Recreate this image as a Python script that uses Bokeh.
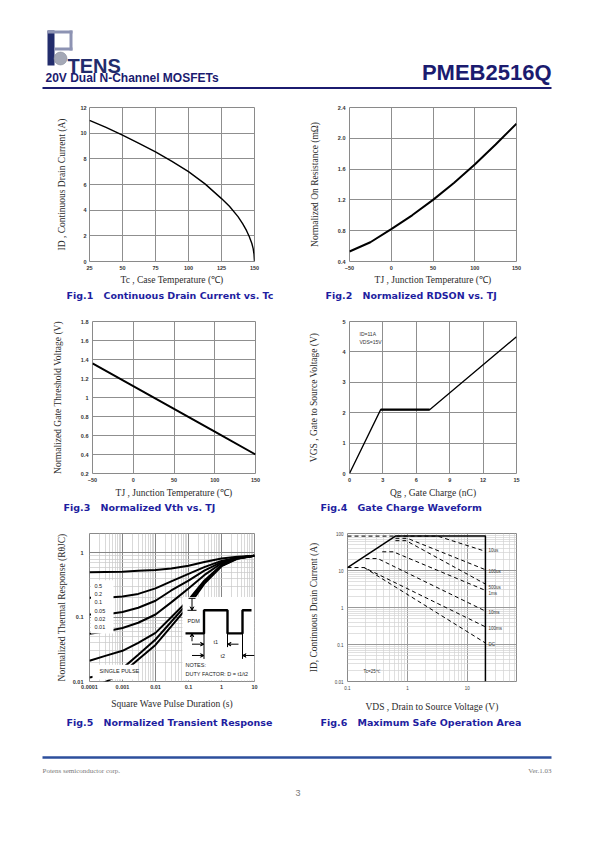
from bokeh.plotting import figure
from bokeh.layouts import column, row
from bokeh.models import Range1d, FixedTicker, CustomJSTickFormatter, Arrow, VeeHead
from bokeh.core.properties import value
from bokeh.embed import file_html
from bokeh.resources import INLINE

# ---------------- data ----------------
# Fig.1 Continuous drain current vs case temperature
fig1_tc = [25, 37.5, 50, 62.5, 75, 87.5, 100, 112.5, 125, 131, 137.5, 141, 144, 146, 148, 149, 149.6, 150]
fig1_id = [11.0, 10.45, 9.85, 9.2, 8.55, 7.8, 7.0, 6.05, 4.9, 4.3, 3.5, 2.95, 2.4, 1.95, 1.4, 1.0, 0.6, 0.0]
fig1_xticks = [25, 50, 75, 100, 125, 150]
fig1_yticks = [0, 2, 4, 6, 8, 10, 12]

# Fig.2 Normalized RDSON vs TJ
fig2_tj = [-50, -25, 0, 25, 50, 75, 100, 125, 150]
fig2_rds = [0.53, 0.65, 0.82, 1.0, 1.2, 1.42, 1.66, 1.92, 2.19]
fig2_xticks = [-50, 0, 50, 100, 150]
fig2_yticks = [0.4, 0.8, 1.2, 1.6, 2.0, 2.4]

# Fig.3 Normalized Vth vs TJ
fig3_tj = [-50, 0, 50, 100, 150]
fig3_vth = [1.36, 1.12, 0.88, 0.64, 0.40]
fig3_xticks = [-50, 0, 50, 100, 150]
fig3_yticks = [0.2, 0.4, 0.6, 0.8, 1.0, 1.2, 1.4, 1.6, 1.8]

# Fig.4 Gate charge waveform
fig4_qg = [0, 2.8, 7.2, 15]
fig4_vgs = [0, 2.1, 2.1, 4.5]
fig4_xticks = [0, 3, 6, 9, 12, 15]
fig4_yticks = [0, 1, 2, 3, 4, 5]
fig4_notes = ["ID=11A", "VDS=15V"]

# Fig.5 Normalized transient thermal response
fig5_t = [1e-4, 3e-4, 1e-3, 3e-3, 1e-2, 3e-2, 0.1, 0.3, 1, 3, 10]
fig5_d05 = [0.50, 0.505, 0.51, 0.525, 0.54, 0.57, 0.63, 0.72, 0.82, 0.87, 0.90]
fig5_d02 = [0.20, 0.20, 0.21, 0.23, 0.28, 0.36, 0.47, 0.60, 0.75, 0.84, 0.90]
fig5_d01 = [0.11, 0.11, 0.12, 0.14, 0.18, 0.26, 0.37, 0.53, 0.72, 0.84, 0.90]
fig5_d005 = [0.055, 0.06, 0.068, 0.082, 0.11, 0.17, 0.28, 0.45, 0.69, 0.83, 0.90]
fig5_d002 = [0.021, 0.025, 0.030, 0.040, 0.057, 0.10, 0.185, 0.37, 0.65, 0.82, 0.90]
fig5_d001 = [0.0115, 0.0128, 0.016, 0.026, 0.045, 0.085, 0.17, 0.35, 0.63, 0.82, 0.90]
fig5_single = [0.0078, 0.0098, 0.0135, 0.022, 0.037, 0.072, 0.15, 0.33, 0.62, 0.81, 0.90]
fig5_duty_labels = ["0.5", "0.2", "0.1", "0.05", "0.02", "0.01"]
fig5_xticks = [1e-4, 1e-3, 1e-2, 0.1, 1, 10]
fig5_yticks = [0.01, 0.1, 1]

# Fig.6 Maximum safe operating area
fig6_limit_v = [0.1, 0.63, 20, 20]
fig6_limit_i = [12, 85, 85, 0.01]
fig6_10us_v = [0.1, 3.2, 20]
fig6_10us_i = [85, 85, 33]
fig6_100us_v = [0.63, 1.0, 20]
fig6_100us_i = [74, 74, 10.5]
fig6_500us_v = [0.63, 0.95, 20]
fig6_500us_i = [64, 64, 4.3]
fig6_1ms_v = [0.38, 0.58, 20]
fig6_1ms_i = [32, 32, 2.9]
fig6_10ms_v = [0.2, 0.32, 20]
fig6_10ms_i = [21, 21, 0.8]
fig6_100ms_v = [0.1, 0.19, 20]
fig6_100ms_i = [12, 12, 0.3]
fig6_dc_v = [0.19, 20]
fig6_dc_i = [12, 0.11]
fig6_labels = ["10us", "100us", "500us", "1ms", "10ms", "100ms", "DC"]
fig6_label_i = [34.7, 9.6, 3.54, 2.35, 0.72, 0.276, 0.1]
fig6_xticks = [0.1, 1, 10]
fig6_yticks = [0.01, 0.1, 1, 10, 100]

captions_num = ["Fig.1", "Fig.2", "Fig.3", "Fig.4", "Fig.5", "Fig.6"]
captions_txt = ["Continuous Drain Current vs. Tc", "Normalized RDSON vs. TJ",
                "Normalized Vth vs. TJ", "Gate Charge Waveform",
                "Normalized Transient Response", "Maximum Safe Operation Area"]

# ---------------- styling helpers ----------------
NAVY = "#1b1b6f"
CAP_BLUE = "#1e1ea0"
SERIF = "Liberation Serif"
SANS = "Liberation Sans"


def deco(x0, x1, y0, y1):
    p = figure(width=int(x1 - x0), height=int(y1 - y0), x_range=Range1d(x0, x1),
               y_range=Range1d(y1, y0), x_axis_type=None, y_axis_type=None,
               toolbar_location=None, output_backend="svg", min_border=0)
    p.outline_line_color = None
    p.background_fill_color = "white"
    p.border_fill_color = "white"
    return p


def txt(p, x, y, s, size, font=SANS, style="normal", color="#222222",
        align="left", baseline="middle"):
    p.text(x=[x], y=[y], text=[s], text_font=value(font), text_font_size=size,
           text_font_style=style, text_color=color, text_align=align,
           text_baseline=baseline)


def chart(w, h, xr, yr, fl, ft, fw, fh, xtype="linear", ytype="linear"):
    p = figure(width=w, height=h, x_range=Range1d(*xr), y_range=Range1d(*yr),
               x_axis_type=xtype, y_axis_type=ytype, toolbar_location=None,
               output_backend="svg", min_border_left=fl, min_border_top=ft,
               min_border_right=w - fl - fw, min_border_bottom=h - ft - fh)
    p.background_fill_color = "white"
    p.border_fill_color = "white"
    p.outline_line_color = "#8a8a8a"
    for ax in p.axis:
        ax.axis_line_color = None
        ax.major_tick_line_color = None
        ax.minor_tick_line_color = None
        ax.major_tick_out = 0
        ax.major_tick_in = 0
        ax.minor_tick_out = 0
        ax.minor_tick_in = 0
        ax.axis_label_text_font = SERIF
        ax.axis_label_text_font_style = "normal"
        ax.axis_label_text_font_size = "9.5px"
        ax.axis_label_text_color = "#2b2b2b"
        ax.major_label_text_font = SANS
        ax.major_label_text_font_size = "5.5px"
        ax.major_label_text_font_style = "bold"
        ax.major_label_text_color = "#333333"
    p.grid.grid_line_color = "#8f8f8f"
    p.grid.grid_line_width = 1
    return p


def set_axes(p, xlabel, ylabel, xt, yt, y_std, y_als, x_std, x_als):
    p.xaxis.ticker = FixedTicker(ticks=xt)
    p.yaxis.ticker = FixedTicker(ticks=yt)
    p.xaxis.axis_label = xlabel
    p.yaxis.axis_label = ylabel
    p.yaxis.major_label_standoff = y_std
    p.yaxis.axis_label_standoff = y_als
    p.xaxis.major_label_standoff = x_std
    p.xaxis.axis_label_standoff = x_als


# ---------------- header ----------------
hdr = deco(0, 595, 0, 95)
hdr.quad(left=[47], right=[54], top=[30], bottom=[65], fill_color="#222c6c", line_color=None)
hdr.quad(left=[47, 69, 54], right=[72, 72, 72], top=[30, 30, 47], bottom=[33, 50, 50],
         fill_color="#8d93b3", line_color=None)
hdr.circle(x=[60], y=[58], radius=6.5, fill_color="#a4a8b6", line_color="#7c8090", line_width=0.5)
txt(hdr, 67, 65, "TENS", "20px", font=SANS, style="bold",
    color="#222c6c", baseline="alphabetic")
txt(hdr, 45, 77, "20V Dual N-Channel MOSFETs", "12px", style="bold", color=NAVY)
txt(hdr, 551, 72, "PMEB2516Q", "22px", style="bold", color=NAVY, align="right")
hdr.segment(x0=[42], y0=[87.5], x1=[551], y1=[87.5], line_width=2, line_color=NAVY)

# ---------------- Fig.1 ----------------
f1 = chart(298, 193, (25, 150), (0, 12), 89, 12, 165, 154)
set_axes(f1, "Tc , Case Temperature (\u2103)", "ID , Continuous Drain Current (A)",
         fig1_xticks, fig1_yticks, 3, 10, 4, 2)
f1.line(fig1_tc, fig1_id, line_color="black", line_width=1.4)

# ---------------- Fig.2 ----------------
f2 = chart(297, 193, (-50, 150), (0.4, 2.4), 51, 12, 167, 154)
set_axes(f2, "TJ , Junction Temperature (\u2103)", "Normalized On Resistance (m\u03a9)",
         fig2_xticks, fig2_yticks, 4, 15, 4, 2)
f2.yaxis.formatter = CustomJSTickFormatter(code="return tick.toFixed(1);")
f2.line(fig2_tj, fig2_rds, line_color="black", line_width=2)

# ---------------- Fig.3 ----------------
f3 = chart(298, 198, (-50, 150), (0.2, 1.8), 92, 19, 163, 152)
set_axes(f3, "TJ , Junction Temperature (\u2103)", "Normalized Gate Threshold Voltage (V)",
         fig3_xticks, fig3_yticks, 4, 15, 4, 3)
f3.yaxis.formatter = CustomJSTickFormatter(code="return (Math.round(tick*10)/10).toString();")
f3.line(fig3_tj, fig3_vth, line_color="black", line_width=2)

# ---------------- Fig.4 ----------------
f4 = chart(297, 198, (0, 15), (0, 5), 51, 17, 167, 154)
set_axes(f4, "Qg , Gate Charge (nC)", "VGS , Gate to Source Voltage (V)",
         fig4_xticks, fig4_yticks, 4, 20, 4, 3)
f4.line(fig4_qg, fig4_vgs, line_color="black", line_width=1.3)
f4.line(fig4_qg[1:3], fig4_vgs[1:3], line_color="black", line_width=2.2)
txt(f4, 0.9, 4.58, fig4_notes[0], "5px", color="#333333")
txt(f4, 0.9, 4.32, fig4_notes[1], "5px", color="#333333")

# ---------------- Fig.5 ----------------
f5 = chart(298, 201, (1e-4, 10), (0.01, 2), 89, 19, 165, 151, xtype="log", ytype="log")
minor5x = [m * d for d in [1e-4, 1e-3, 1e-2, 0.1, 1] for m in range(2, 10)]
minor5y = [m * d for d in [0.01, 0.1, 1] for m in range(2, 10)]
f5.xaxis.ticker = FixedTicker(ticks=fig5_xticks, minor_ticks=minor5x)
f5.yaxis.ticker = FixedTicker(ticks=fig5_yticks, minor_ticks=minor5y)
f5.xaxis.axis_label = "Square Wave Pulse Duration (s)"
f5.yaxis.axis_label = "Normalized Thermal Response (R\u03b8JC)"
f5.yaxis.major_label_standoff = 6
f5.yaxis.axis_label_standoff = 3
f5.xaxis.major_label_standoff = 3
f5.xaxis.axis_label_standoff = 7
f5.xaxis.formatter = CustomJSTickFormatter(code="return tick.toString();")
f5.yaxis.formatter = CustomJSTickFormatter(code="return tick.toString();")
f5.grid.grid_line_color = "#858585"
f5.grid.minor_grid_line_color = "#c8c8c8"
f5.grid.minor_grid_line_width = 0.7
for ys in [fig5_d05, fig5_d02, fig5_d01, fig5_d005, fig5_d002, fig5_d001, fig5_single]:
    f5.line(fig5_t, ys, line_color="black", line_width=2)


def X5(px):
    return 10 ** (-4 + (px - 89) / 33.0)


def Y5(py):
    return 10 ** (-(py - 552) / 65.5)


# white label boxes
f5.quad(left=[X5(90.5)], right=[X5(113)], top=[Y5(580)], bottom=[Y5(634)],
        fill_color="white", line_color=None)
f5.quad(left=[X5(92)], right=[X5(137)], top=[Y5(666)], bottom=[Y5(681)],
        fill_color="white", line_color=None)
for lab, py in zip(fig5_duty_labels, [586, 594.3, 602.5, 611, 619.3, 627.7]):
    txt(f5, X5(94), Y5(py), lab, "5.5px", color="#222222")
txt(f5, X5(99), Y5(672), "SINGLE PULSE", "5.5px", color="#222222")
# inset: duty factor diagram
f5.quad(left=[X5(182)], right=[X5(254)], top=[Y5(597)], bottom=[Y5(682)],
        fill_color="white", line_color=None)
wave_px = [185, 203.5, 203.5, 227, 227, 242, 242, 251]
wave_py = [634, 634, 610.5, 610.5, 634, 634, 610.5, 610.5]
f5.line([X5(v) for v in wave_px], [Y5(v) for v in wave_py], line_color="black", line_width=2.4)
f5.segment(x0=[X5(187), X5(188), X5(203.5), X5(227), X5(242)],
           y0=[Y5(610.5), Y5(598.3), Y5(634), Y5(634), Y5(634)],
           x1=[X5(196), X5(195), X5(203.5), X5(227), X5(242)],
           y1=[Y5(610.5), Y5(598.3), Y5(660), Y5(648), Y5(660)],
           line_color="black", line_width=1)
for (xs, ys, xe, ye) in [(191.5, 598.3, 191.5, 610.5), (191.5, 642, 191.5, 634),
                         (191.5, 645, 203.5, 645), (238, 645, 227, 645),
                         (191.5, 656.5, 203.5, 656.5), (254, 656.5, 242, 656.5)]:
    f5.add_layout(Arrow(end=VeeHead(size=3.5, line_color="black", line_width=1),
                        x_start=X5(xs), y_start=Y5(ys), x_end=X5(xe), y_end=Y5(ye),
                        line_color="black", line_width=1))
txt(f5, X5(187), Y5(621), "PDM", "5.5px", color="#222222")
txt(f5, X5(213), Y5(643), "t1", "5.5px", color="#222222")
txt(f5, X5(220), Y5(657), "t2", "5.5px", color="#222222")
txt(f5, X5(185), Y5(666.5), "NOTES:", "5.5px", color="#222222")
txt(f5, X5(185), Y5(675.5), "DUTY FACTOR: D = t1/t2", "5.5px", color="#222222")

# ---------------- Fig.6 ----------------
f6 = chart(297, 201, (0.1, 66), (0.01, 100), 49, 20, 169, 148, xtype="log", ytype="log")
minor6x = [m * d for d in [0.1, 1, 10] for m in range(2, 10)]
minor6y = [m * d for d in [0.01, 0.1, 1, 10] for m in range(2, 10)]
f6.xaxis.ticker = FixedTicker(ticks=fig6_xticks, minor_ticks=minor6x)
f6.yaxis.ticker = FixedTicker(ticks=fig6_yticks, minor_ticks=minor6y)
f6.xaxis.axis_label = "VDS , Drain to Source Voltage (V)"
f6.yaxis.axis_label = "ID, Continuous Drain Current (A)"
f6.yaxis.major_label_standoff = 4
f6.yaxis.axis_label_standoff = 13
f6.xaxis.major_label_standoff = 4
f6.xaxis.axis_label_standoff = 9
f6.xaxis.formatter = CustomJSTickFormatter(code="return tick.toString();")
f6.yaxis.formatter = CustomJSTickFormatter(code="return tick.toString();")
for ax in f6.axis:
    ax.major_label_text_font_size = "4.5px"
    ax.major_label_text_font_style = "normal"
    ax.major_label_text_color = "#444444"
f6.grid.grid_line_color = "#9a9a9a"
f6.grid.minor_grid_line_color = "#d2d2d2"
f6.grid.minor_grid_line_width = 0.7
for vs, cs in [(fig6_10us_v, fig6_10us_i), (fig6_100us_v, fig6_100us_i),
               (fig6_500us_v, fig6_500us_i), (fig6_1ms_v, fig6_1ms_i),
               (fig6_10ms_v, fig6_10ms_i), (fig6_100ms_v, fig6_100ms_i),
               (fig6_dc_v, fig6_dc_i)]:
    f6.line(vs, cs, line_color="black", line_width=1, line_dash="4 3")
f6.line(fig6_limit_v, fig6_limit_i, line_color="black", line_width=1.5)
f6.text(x=[22.5] * len(fig6_labels), y=fig6_label_i, text=fig6_labels,
        text_font=value(SANS), text_font_size="4.5px", text_color="#333333",
        text_baseline="middle", text_align="left")
txt(f6, 0.185, 0.0186, "Tc=25\u2103", "4.5px", color="#333333")


# ---------------- captions ----------------
def caption(x0, x1, y0, y1, yc, xn, xt, num, body):
    p = deco(x0, x1, y0, y1)
    txt(p, xn, yc, num, "9.5px", font="DejaVu Sans", style="bold", color=CAP_BLUE)
    txt(p, xt, yc, body, "9.5px", font="DejaVu Sans", style="bold", color=CAP_BLUE)
    return p


c1 = caption(0, 298, 288, 302, 294.5, 66, 103, captions_num[0], captions_txt[0])
c2 = caption(298, 595, 288, 302, 294.5, 325, 362, captions_num[1], captions_txt[1])
c3 = caption(0, 298, 500, 513, 506.5, 63, 100, captions_num[2], captions_txt[2])
c4 = caption(298, 595, 500, 513, 506.5, 320, 357, captions_num[3], captions_txt[3])
c5 = caption(0, 298, 714, 730, 721.5, 66, 103, captions_num[4], captions_txt[4])
c6 = caption(298, 595, 714, 730, 721.5, 320, 357, captions_num[5], captions_txt[5])

# ---------------- footer ----------------
ftr = deco(0, 595, 730, 840)
ftr.segment(x0=[42], y0=[757], x1=[551], y1=[757], line_width=2.5, line_color="#2d4f9c")
txt(ftr, 42, 770, "Potens semiconductor corp.", "7px", font=SERIF, color="#7a7a7a")
txt(ftr, 551, 770, "Ver.1.03", "7px", font=SERIF, color="#7a7a7a", align="right")
txt(ftr, 297.5, 792, "3", "9px", font=SANS, color="#7a7a7a", align="center")

layout = column(hdr, row(f1, f2), row(c1, c2), row(f3, f4), row(c3, c4),
                row(f5, f6), row(c5, c6), ftr)
open("out.html", "w").write(file_html(layout, INLINE))
